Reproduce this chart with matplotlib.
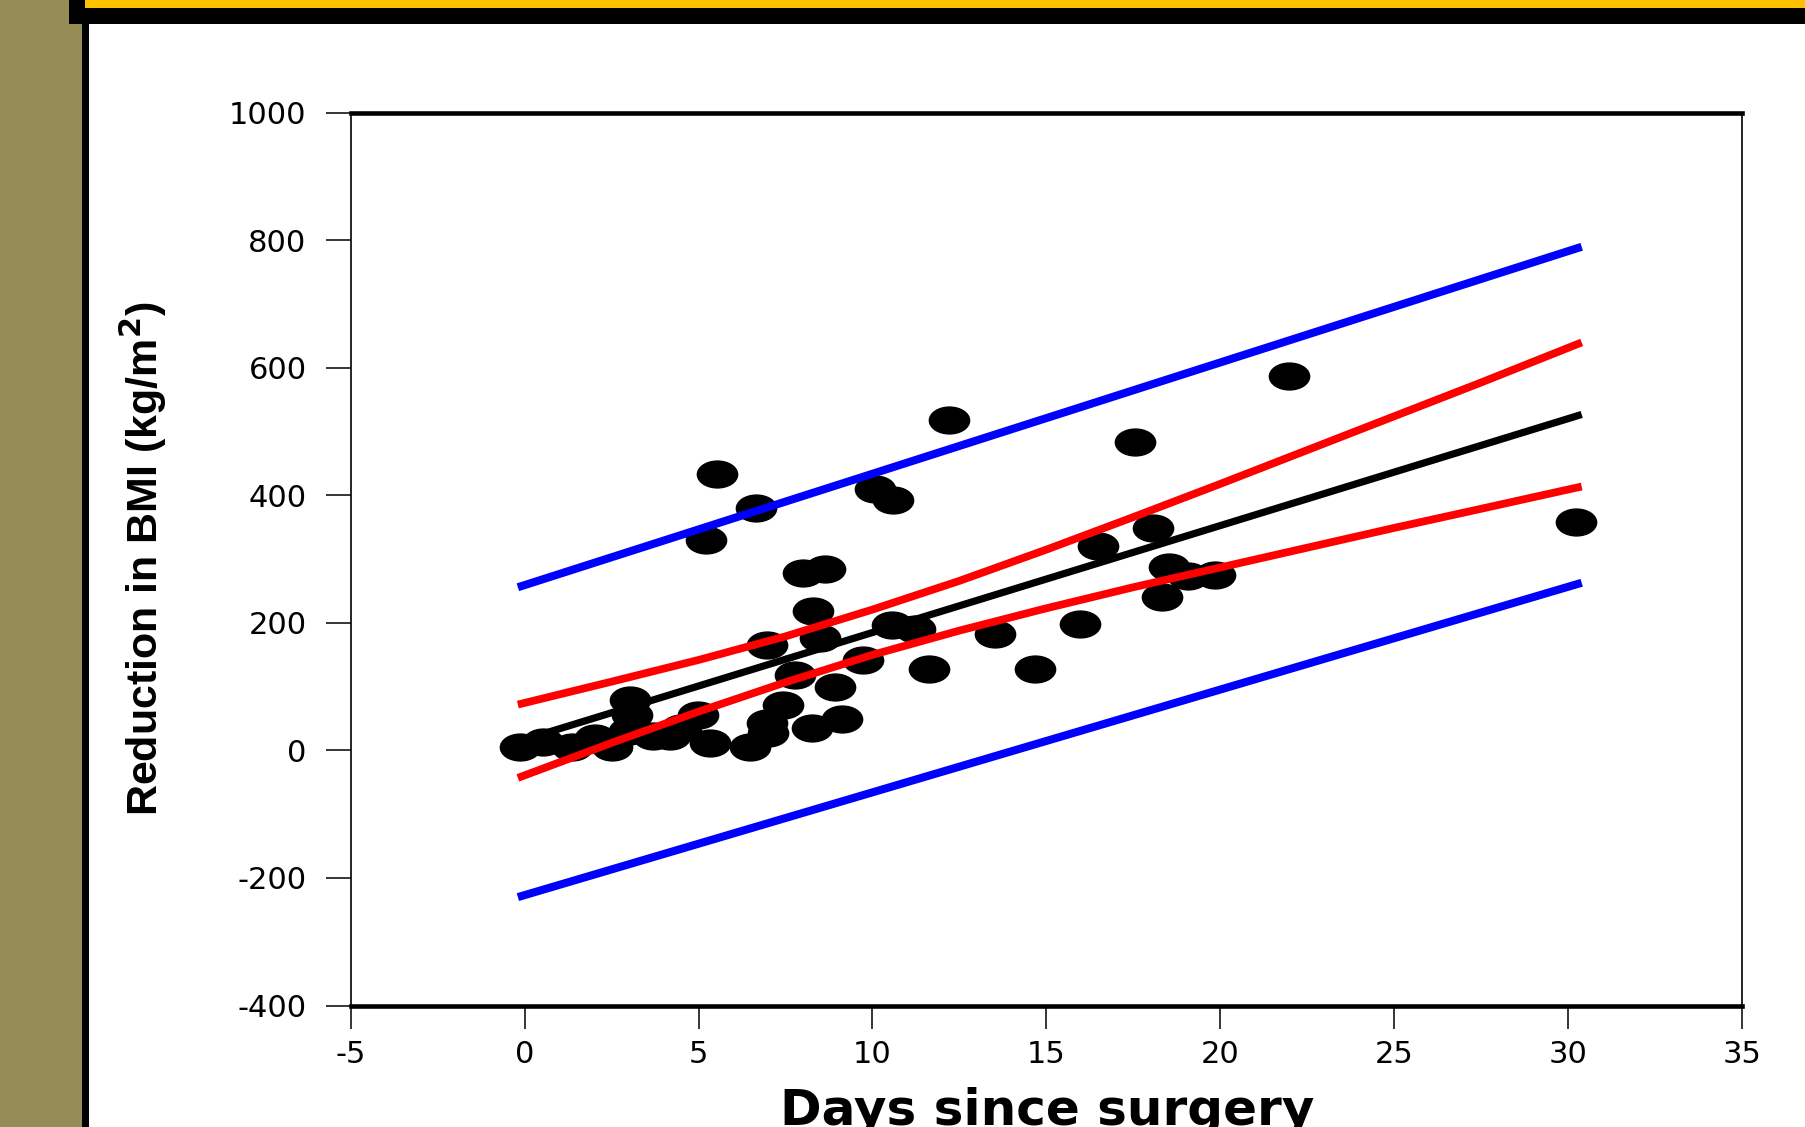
import matplotlib as mpl
import matplotlib.pyplot as plt
from matplotlib import font_manager
from matplotlib.patches import Rectangle
from matplotlib.path import Path
from matplotlib.transforms import Affine2D

# scatter: days since surgery vs reduction in BMI
days = [-0.14, 0.53, 1.35, 2.02, 2.5, 3.03, 3.07, 3.0, 3.7, 4.18,
        4.5, 4.99, 5.33, 5.21, 5.52, 6.48, 6.65, 6.96, 6.96, 7.0,
        7.42, 7.77, 8.01, 8.63, 8.3, 8.49, 8.25, 8.92, 9.11, 9.72,
        10.07, 10.58, 10.55, 11.22, 11.63, 12.2, 13.52, 14.68, 15.98, 16.5,
        17.55, 18.07, 18.34, 18.53, 19.08, 19.85, 21.98, 30.25]
bmi_drop = [6, 14, 6, 19, 6, 79, 56, 30, 22, 22,
            35, 56, 11, 330, 434, 6, 380, 165, 43, 27,
            71, 118, 278, 284, 218, 176, 35, 99, 50, 142,
            410, 393, 197, 190, 128, 518, 183, 127, 198, 320,
            484, 349, 240, 288, 274, 276, 588, 358]

# regression line and prediction band (read at the line ends)
fit_days = [-0.2, 30.4]
fit_line = [14, 527]
pred_upper = [256, 790]
pred_lower = [-230, 263]

# confidence band
ci_days = [-0.2, 2.5, 5, 7.5, 10, 12.5, 15, 17.5, 20, 22.5, 25, 27.5, 30.4]
ci_upper = [72, 108, 142, 179, 221, 266, 315, 366, 418, 471, 524, 577, 640]
ci_lower = [-43, 12, 61, 107, 150, 188, 223, 256, 287, 318, 349, 379, 414]

x_ticks = [-5, 0, 5, 10, 15, 20, 25, 30, 35]
y_ticks = [-400, -200, 0, 200, 400, 600, 800, 1000]

W, H = 1806, 1127


def fx(px):
    return px / W


def fy(py):
    return 1 - py / H


names = {f.name for f in font_manager.fontManager.ttflist}
label_font = 'Liberation Sans Narrow' if 'Liberation Sans Narrow' in names else 'Liberation Sans'

mpl.rcParams['font.family'] = 'DejaVu Sans'
mpl.rcParams['axes.unicode_minus'] = False

fig = plt.figure(figsize=(W / 100, H / 100), dpi=100)

# slide frame
fig.patches.append(Rectangle((0, 0), fx(81.5), 1, transform=fig.transFigure,
                             facecolor='#968c56', edgecolor='none', zorder=0))
fig.patches.append(Rectangle((fx(81.5), 0), fx(7.5), 1, transform=fig.transFigure,
                             facecolor='black', edgecolor='none', zorder=1))
fig.patches.append(Rectangle((fx(69), fy(24)), 1, 24 / H, transform=fig.transFigure,
                             facecolor='black', edgecolor='none', zorder=1))
fig.patches.append(Rectangle((fx(85), fy(8)), 1, 8 / H, transform=fig.transFigure,
                             facecolor='#ffc000', edgecolor='none', zorder=2))

ax = fig.add_axes([fx(351), fy(1005.5), (1741.6 - 351) / W, (1005.5 - 112.9) / H])

ellipse = Path.unit_circle().transformed(Affine2D().scale(1.5, 1.0))
ax.plot(days, bmi_drop, linestyle='none', marker=ellipse, markersize=29,
        color='black', zorder=2)

ax.plot(fit_days, pred_upper, color='#0000ff', lw=5.8, solid_capstyle='butt', zorder=3)
ax.plot(fit_days, pred_lower, color='#0000ff', lw=5.8, solid_capstyle='butt', zorder=3)
ax.plot(ci_days, ci_upper, color='#ff0000', lw=5.6, solid_capstyle='butt', zorder=3)
ax.plot(ci_days, ci_lower, color='#ff0000', lw=5.6, solid_capstyle='butt', zorder=3)
ax.plot(fit_days, fit_line, color='black', lw=5.2, solid_capstyle='butt', zorder=3)

ax.set_xlim(-5, 35)
ax.set_ylim(-400, 1000)
ax.set_xticks(x_ticks)
ax.set_yticks(y_ticks)

for side in ['left', 'right']:
    ax.spines[side].set_linewidth(1.2)
for side in ['top', 'bottom']:
    ax.spines[side].set_linewidth(3.3)

ax.tick_params(axis='y', direction='out', length=18, width=1.1, pad=14,
               labelsize=22, right=False)
ax.tick_params(axis='x', direction='out', length=16.5, width=1.1, pad=8,
               labelsize=22, top=False)

ax.set_ylabel(r'Reduction in BMI (kg/m$^{\mathbf{2}}$)', family=label_font,
              fontweight='bold', fontsize=31)
ax.yaxis.set_label_coords(-0.131, 0.5)

fig.text(fx(1047), fy(1125), 'Days since surgery', ha='center', va='baseline',
         fontsize=36, fontweight='bold')

fig.savefig('out.png', dpi=100, facecolor='white')
